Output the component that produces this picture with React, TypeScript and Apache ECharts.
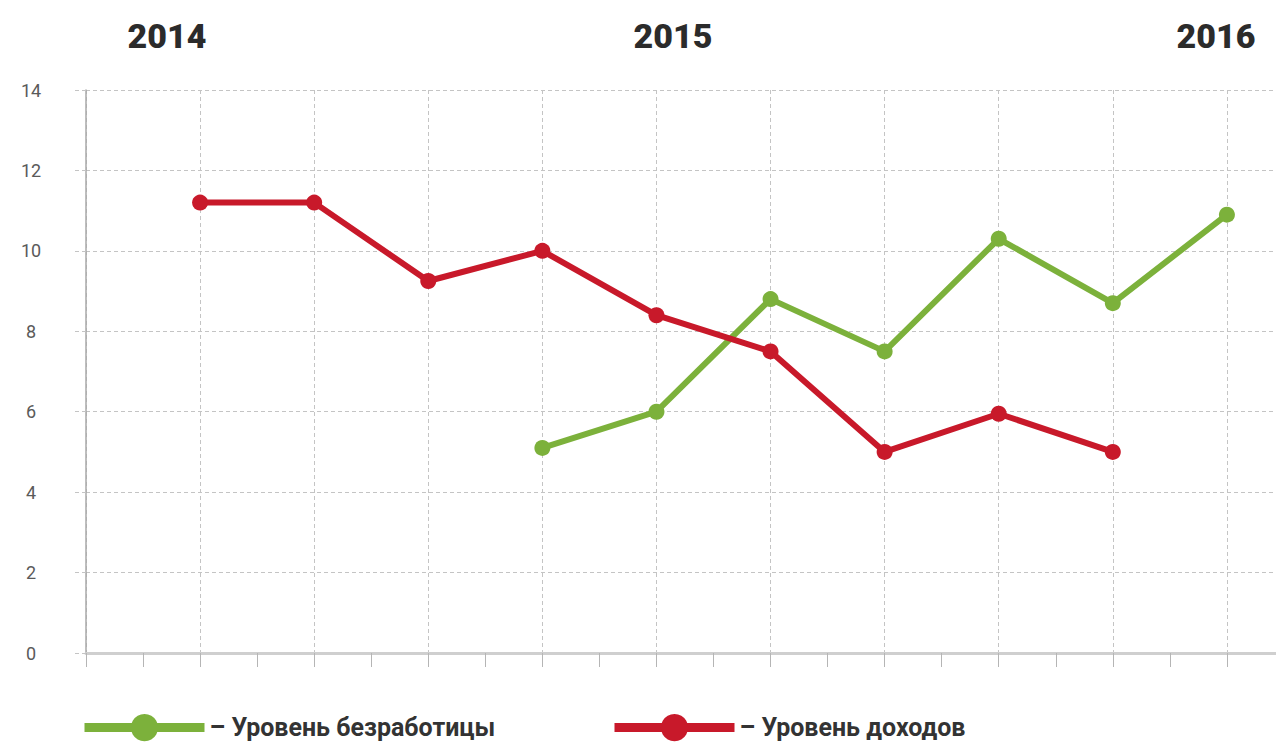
import React, { useEffect, useRef } from "react";
import * as echarts from "echarts";

const periodIndex = [0, 1, 2, 3, 4, 5, 6, 7, 8, 9, 10];
const unemployment: (number | null)[] = [null, null, null, null, 5.1, 6.0, 8.8, 7.5, 10.3, 8.7, 10.9];
const income: (number | null)[] = [null, 11.2, 11.2, 9.25, 10.0, 8.4, 7.5, 5.0, 5.95, 5.0, null];
const yearLabels = ["2014", "2015", "2016"];
const yearPositions = [167, 673, 1216];
const seriesNames = ["Уровень безработицы", "Уровень доходов"];

const GREEN = "#7cb13b";
const RED = "#c8192a";

function toPairs(values: (number | null)[]) {
  const out: [number, number][] = [];
  values.forEach((v, i) => {
    if (v !== null) out.push([periodIndex[i], v]);
  });
  return out;
}

export default function App() {
  const ref = useRef<HTMLDivElement>(null);
  useEffect(() => {
    if (!ref.current) return;
    const chart = echarts.init(ref.current, null, { renderer: "svg" });
    const gridLine = { show: true, lineStyle: { color: "#c4c4c4", type: [4, 3] as any, width: 1 } };
    const legendText = { fontSize: 25, fontWeight: "bold", color: "#333333", fontFamily: "Roboto" };
    const legendBase = {
      top: 714,
      padding: 0,
      itemWidth: 120,
      itemHeight: 34,
      itemGap: 0,
      lineStyle: { width: 9 },
      formatter: (n: string) => "– " + n,
      textStyle: legendText,
    };
    chart.setOption({
      animation: false,
      backgroundColor: "#ffffff",
      grid: { left: 86, right: 0, top: 90, bottom: 95 },
      xAxis: {
        type: "value",
        min: 0,
        max: 11,
        interval: 1,
        axisLine: { show: true, lineStyle: { color: "#cfcfcf", width: 3 } },
        axisTick: { show: true, length: 14, lineStyle: { color: "#b5b5b5", width: 1 } },
        minorTick: { show: true, splitNumber: 2, length: 14, lineStyle: { color: "#b5b5b5", width: 1 } },
        axisLabel: { show: false },
        splitLine: gridLine,
      },
      yAxis: {
        type: "value",
        min: 0,
        max: 14,
        interval: 2,
        axisLine: { show: true, lineStyle: { color: "#a8a8a8", width: 1.5 } },
        axisTick: { show: true, length: 14, lineStyle: { color: "#c4c4c4", type: [4, 3] as any } },
        axisLabel: {
          margin: 55,
          align: "center",
          fontSize: 18,
          color: "#5a5a5a",
          fontFamily: "Roboto",
        },
        splitLine: gridLine,
      },
      legend: [
        { ...legendBase, data: [seriesNames[0]], left: 80 },
        { ...legendBase, data: [seriesNames[1]], left: 610 },
      ],
      graphic: yearLabels.map((t, i) => ({
        type: "text",
        x: yearPositions[i],
        y: 36,
        style: {
          text: t,
          fontSize: 34,
          fontWeight: 900,
          fontFamily: "Roboto",
          fill: "#2b2b2b",
          align: "center",
          verticalAlign: "middle",
        },
      })),
      series: [
        {
          name: seriesNames[0],
          type: "line",
          data: toPairs(unemployment),
          symbol: "circle",
          symbolSize: 16,
          lineStyle: { width: 6, color: GREEN },
          itemStyle: { color: GREEN },
          z: 3,
        },
        {
          name: seriesNames[1],
          type: "line",
          data: toPairs(income),
          symbol: "circle",
          symbolSize: 16,
          lineStyle: { width: 6, color: RED },
          itemStyle: { color: RED },
          z: 4,
        },
      ],
    });
    return () => chart.dispose();
  }, []);
  return (
    <div
      style={{ position: "absolute", left: 0, top: 0, width: 1276, height: 748, overflow: "hidden" }}
    >
      <div ref={ref} style={{ position: "absolute", left: 0, top: 0, width: 1341, height: 748 }} />
    </div>
  );
}
